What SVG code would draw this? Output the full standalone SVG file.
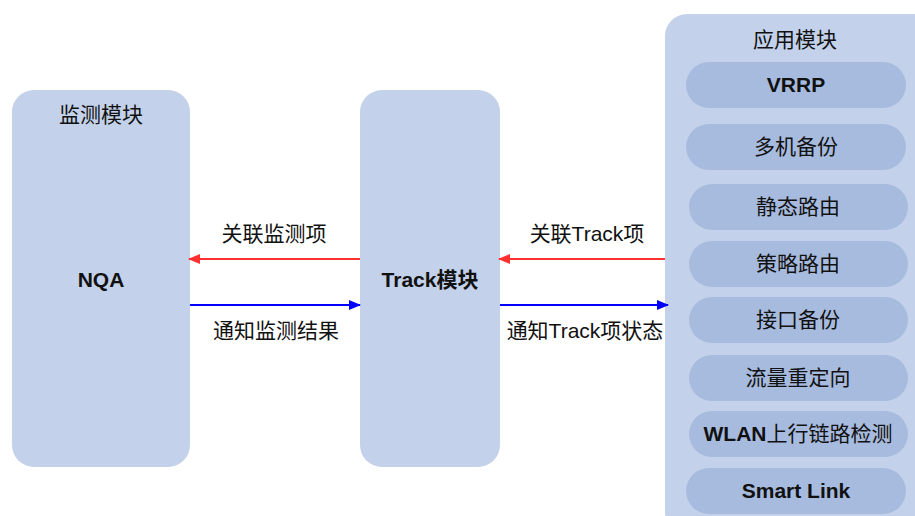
<svg xmlns="http://www.w3.org/2000/svg" width="915" height="516" viewBox="0 0 915 516">
<defs>
<style>
.box{fill:#c3d1ea;}
.pill{fill:#a7bbdf;}
.t{font-family:"Liberation Sans","Noto Sans CJK SC",sans-serif;font-size:21px;fill:#111;text-anchor:middle;}
.b{font-weight:bold;}
.red{stroke:#ff3030;stroke-width:2;fill:none;}
.blue{stroke:#0000ff;stroke-width:2;fill:none;}
</style>
<marker id="ar" markerWidth="12" markerHeight="12" refX="11" refY="6" orient="auto" markerUnits="userSpaceOnUse" viewBox="0 0 12 12">
<path d="M0,1 L12,6 L0,11 z" fill="#ff3030"/>
</marker>
<marker id="ab" markerWidth="12" markerHeight="12" refX="11" refY="6" orient="auto" markerUnits="userSpaceOnUse" viewBox="0 0 12 12">
<path d="M0,1 L12,6 L0,11 z" fill="#0000ff"/>
</marker>
</defs>
<rect width="915" height="516" fill="#fff"/>
<g id="monitor">
<rect class="box" x="12" y="90" width="178" height="377" rx="22"/>
<text class="t" x="101" y="122">监测模块</text>
<text class="t b" x="101" y="287">NQA</text>
</g>
<g id="track">
<rect class="box" x="360" y="90" width="140" height="377" rx="22"/>
<text class="t b" x="430" y="287">Track模块</text>
</g>
<g id="app">
<rect class="box" x="665" y="14" width="270" height="520" rx="22"/>
<text class="t" x="795" y="47">应用模块</text>
</g>
<g id="vrrp"><rect class="pill" x="686" y="62" width="220" height="46" rx="23"/><text class="t b" x="796" y="92">VRRP</text></g>
<g id="multi"><rect class="pill" x="686" y="124" width="220" height="46" rx="23"/><text class="t" x="796" y="154">多机备份</text></g>
<g id="static"><rect class="pill" x="689" y="184" width="219" height="46" rx="23"/><text class="t" x="798" y="214">静态路由</text></g>
<g id="policy"><rect class="pill" x="689" y="241" width="219" height="46" rx="23"/><text class="t" x="798" y="271">策略路由</text></g>
<g id="iface"><rect class="pill" x="689" y="297" width="219" height="46" rx="23"/><text class="t" x="798" y="327">接口备份</text></g>
<g id="redirect"><rect class="pill" x="689" y="355" width="219" height="46" rx="23"/><text class="t" x="798" y="385">流量重定向</text></g>
<g id="wlan"><rect class="pill" x="689" y="411" width="219" height="46" rx="23"/><text class="t b" x="798" y="441">WLAN<tspan font-weight="normal">上行链路检测</tspan></text></g>
<g id="smartlink"><rect class="pill" x="686" y="468" width="220" height="46" rx="23"/><text class="t b" x="796" y="498">Smart Link</text></g>
<g id="connectors">
<line class="red" x1="360" y1="259" x2="189" y2="259" marker-end="url(#ar)"/>
<line class="blue" x1="190" y1="305" x2="360" y2="305" marker-end="url(#ab)"/>
<line class="red" x1="665" y1="259" x2="499" y2="259" marker-end="url(#ar)"/>
<line class="blue" x1="500" y1="305" x2="668" y2="305" marker-end="url(#ab)"/>
<text class="t" x="274" y="241">关联监测项</text>
<text class="t" x="276" y="338">通知监测结果</text>
<text class="t" x="587" y="241">关联Track项</text>
<text class="t" x="585" y="338">通知Track项状态</text>
</g>
</svg>
